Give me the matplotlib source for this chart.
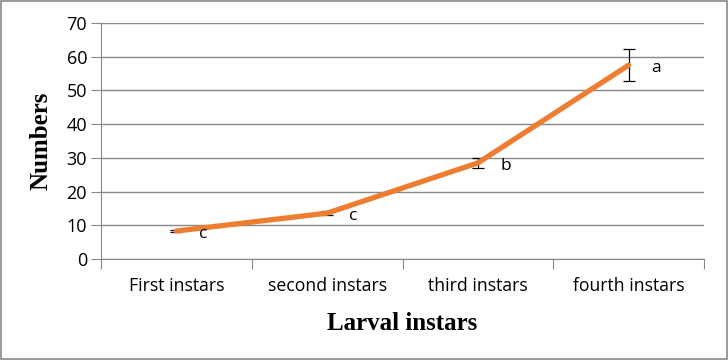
import matplotlib
matplotlib.use("Agg")
import matplotlib.pyplot as plt

stages = ["First instars", "second instars", "third instars", "fourth instars"]
numbers = [8.3, 13.6, 28.5, 57.5]
errors = [0.4, 0.5, 1.5, 4.7]
letters = ["c", "c", "b", "a"]

fig = plt.figure(figsize=(7.28, 3.6), dpi=100)
ax = fig.add_axes([101 / 728, 1 - 259 / 360, 603 / 728, 236 / 360])

x = range(len(stages))
ax.errorbar(x, numbers, yerr=errors, fmt="none", ecolor="black", elinewidth=0.9,
            capsize=4, capthick=0.9, zorder=2)
ax.plot(x, numbers, color="#ED7D31", linewidth=3.8, solid_capstyle="round", zorder=3)
for i, (v, t) in enumerate(zip(numbers, letters)):
    ax.annotate(t, (i, v), xytext=(16, -2), textcoords="offset points",
                fontsize=12.5, family="Open Sans", va="center", ha="left")

ax.set_xlim(-0.5, len(stages) - 0.5)
ax.set_ylim(0, 70)
ax.set_yticks(range(0, 71, 10))
ax.set_xticks([i - 0.5 for i in range(len(stages) + 1)], minor=False)
ax.set_xticklabels([])
ax.set_xticks(list(x), minor=True)
ax.set_xticklabels(stages, minor=True)
ax.tick_params(axis="x", which="major", length=7, color="#888888")
ax.tick_params(axis="x", which="minor", length=0, pad=13, labelsize=12.7)
ax.tick_params(axis="y", length=7, color="#888888", labelsize=13, pad=3)
for lab in ax.get_xticklabels(minor=True) + ax.get_yticklabels():
    lab.set_fontfamily("Open Sans")
ax.grid(axis="y", color="#888888", linewidth=1)
ax.set_axisbelow(True)
for s in ["top", "right"]:
    ax.spines[s].set_visible(False)
ax.spines["left"].set_color("#888888")
ax.spines["bottom"].set_color("#888888")

ax.set_xlabel("Larval instars", family="Liberation Serif", fontweight="bold",
              fontsize=18, labelpad=12)
ax.set_ylabel("Numbers", family="Liberation Serif", fontweight="bold",
              fontsize=18, labelpad=10)

fig.patches.append(plt.Rectangle((0.002, 0.003), 0.996, 0.994, transform=fig.transFigure,
                                 fill=False, edgecolor="#888888", linewidth=1.2))
fig.savefig("out.png", dpi=100)
